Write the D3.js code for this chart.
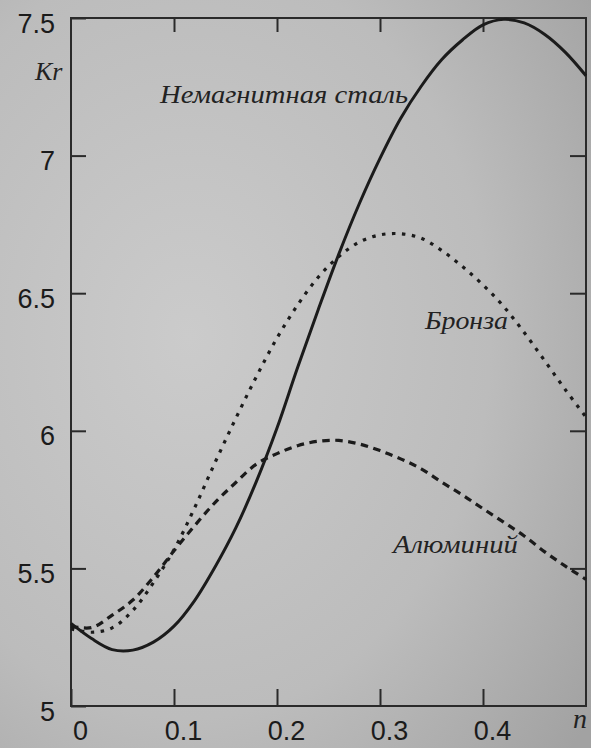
<!DOCTYPE html>
<html><head><meta charset="utf-8">
<script src="https://cdn.jsdelivr.net/npm/d3@7"></script>
<style>html,body{margin:0;padding:0;background:#bdbdbd;}svg{display:block;}</style>
</head><body>
<script>
// ---- data ----
const nValues = [0,0.02,0.04,0.06,0.08,0.10,0.12,0.14,0.16,0.18,0.20,0.22,0.24,0.26,0.28,0.30,0.32,0.34,0.36,0.38,0.40,0.42,0.44,0.46,0.48,0.50];
const steel    = [5.30,5.245,5.205,5.203,5.232,5.29,5.383,5.506,5.647,5.816,6.010,6.230,6.440,6.642,6.826,6.990,7.135,7.252,7.349,7.420,7.475,7.495,7.482,7.440,7.375,7.29];
const bronze   = [5.28,5.268,5.284,5.347,5.448,5.568,5.720,5.886,6.045,6.197,6.337,6.457,6.558,6.633,6.686,6.712,6.716,6.700,6.655,6.597,6.530,6.452,6.357,6.254,6.149,6.05];
const aluminum = [5.29,5.285,5.33,5.385,5.468,5.564,5.655,5.740,5.812,5.879,5.917,5.946,5.962,5.965,5.952,5.928,5.898,5.862,5.813,5.767,5.717,5.668,5.618,5.560,5.508,5.46];
const yTicks = [5,5.5,6,6.5,7,7.5];
const yTickLabels = ["5","5.5","6","6.5","7","7.5"];
const xTicks = [0,0.1,0.2,0.3,0.4];
const xTickLabels = ["0","0.1","0.2","0.3","0.4"];
const seriesNames = ["Немагнитная сталь","Бронза","Алюминий"];
const yTitle = "Kr", xTitle = "n";

// ---- layout ----
const W = 591, H = 748;
const L = 71, R = 586, T = 18, B = 706;
const svg = d3.select("body").append("svg").attr("width",W).attr("height",H);
const defs = svg.append("defs");
const g = defs.append("radialGradient").attr("id","bg").attr("cx","32%").attr("cy","45%").attr("r","85%");
g.append("stop").attr("offset","0%").attr("stop-color","#cbcbcb");
g.append("stop").attr("offset","60%").attr("stop-color","#bcbcbc");
g.append("stop").attr("offset","100%").attr("stop-color","#a2a2a2");
svg.append("rect").attr("width",W).attr("height",H).attr("fill","url(#bg)");

const x = d3.scaleLinear().domain([0,0.5]).range([L,R]);
const y = d3.scaleLinear().domain([5,7.5]).range([B,T]);
const ink = "#1b1b1b";

// frame
svg.append("rect").attr("x",L).attr("y",T).attr("width",R-L).attr("height",B-T)
  .attr("fill","none").attr("stroke","#2a2a2a").attr("stroke-width",2);

function styleAxis(sel){
  sel.select(".domain").remove();
  sel.selectAll(".tick line").attr("stroke","#2a2a2a").attr("stroke-width",2);
}
const fmtY = d => yTickLabels[yTicks.indexOf(d)];
const fmtX = d => xTickLabels[xTicks.indexOf(d)];

const gl = svg.append("g").attr("transform",`translate(${L},0)`)
  .call(d3.axisLeft(y).tickValues(yTicks).tickFormat(fmtY).tickSizeInner(-15).tickSizeOuter(0).tickPadding(16));
styleAxis(gl);
gl.selectAll(".tick text").attr("font-family","'Liberation Sans', Arial, sans-serif")
  .attr("font-size",27).attr("fill",ink).attr("dy","14px");

const gb = svg.append("g").attr("transform",`translate(0,${B})`)
  .call(d3.axisBottom(x).tickValues(xTicks).tickFormat(fmtX).tickSizeInner(-17).tickSizeOuter(0).tickPadding(15));
styleAxis(gb);
gb.selectAll(".tick text").attr("font-family","'Liberation Sans', Arial, sans-serif")
  .attr("font-size",27).attr("fill",ink).attr("dx","9px");

const gt = svg.append("g").attr("transform",`translate(0,${T})`)
  .call(d3.axisTop(x).tickValues(xTicks.slice(1)).tickFormat("").tickSizeInner(-14).tickSizeOuter(0));
styleAxis(gt);
const gr = svg.append("g").attr("transform",`translate(${R},0)`)
  .call(d3.axisRight(y).tickValues(yTicks.slice(1,5)).tickFormat("").tickSizeInner(-16).tickSizeOuter(0));
styleAxis(gr);

// curves
const line = d3.line().x((d,i)=>x(nValues[i])).y(d=>y(d)).curve(d3.curveCatmullRom.alpha(0.5));
svg.append("path").datum(bronze).attr("d",line).attr("fill","none")
  .attr("stroke",ink).attr("stroke-width",3.2).attr("stroke-dasharray","3.5,6.5");
svg.append("path").datum(aluminum).attr("d",line).attr("fill","none")
  .attr("stroke",ink).attr("stroke-width",3.2).attr("stroke-dasharray","7.5,5.5");
svg.append("path").datum(steel).attr("d",line).attr("fill","none")
  .attr("stroke",ink).attr("stroke-width",3);

// text labels
const serif = "'Liberation Serif','DejaVu Serif',serif";
function lbl(t,xp,yp,size,len){
  const s = svg.append("text").attr("x",xp).attr("y",yp).text(t)
    .attr("font-family",serif).attr("font-style","italic").attr("font-size",size).attr("fill","#222");
  if(len) s.attr("textLength",len).attr("lengthAdjust","spacingAndGlyphs");
  return s;
}
lbl(seriesNames[0],160,103,26,248);
lbl(seriesNames[1],425,329,26,83);
lbl(seriesNames[2],393,553,26,125);
lbl(yTitle,35,80,26);
lbl(xTitle,573,728,28);
</script>
</body></html>
